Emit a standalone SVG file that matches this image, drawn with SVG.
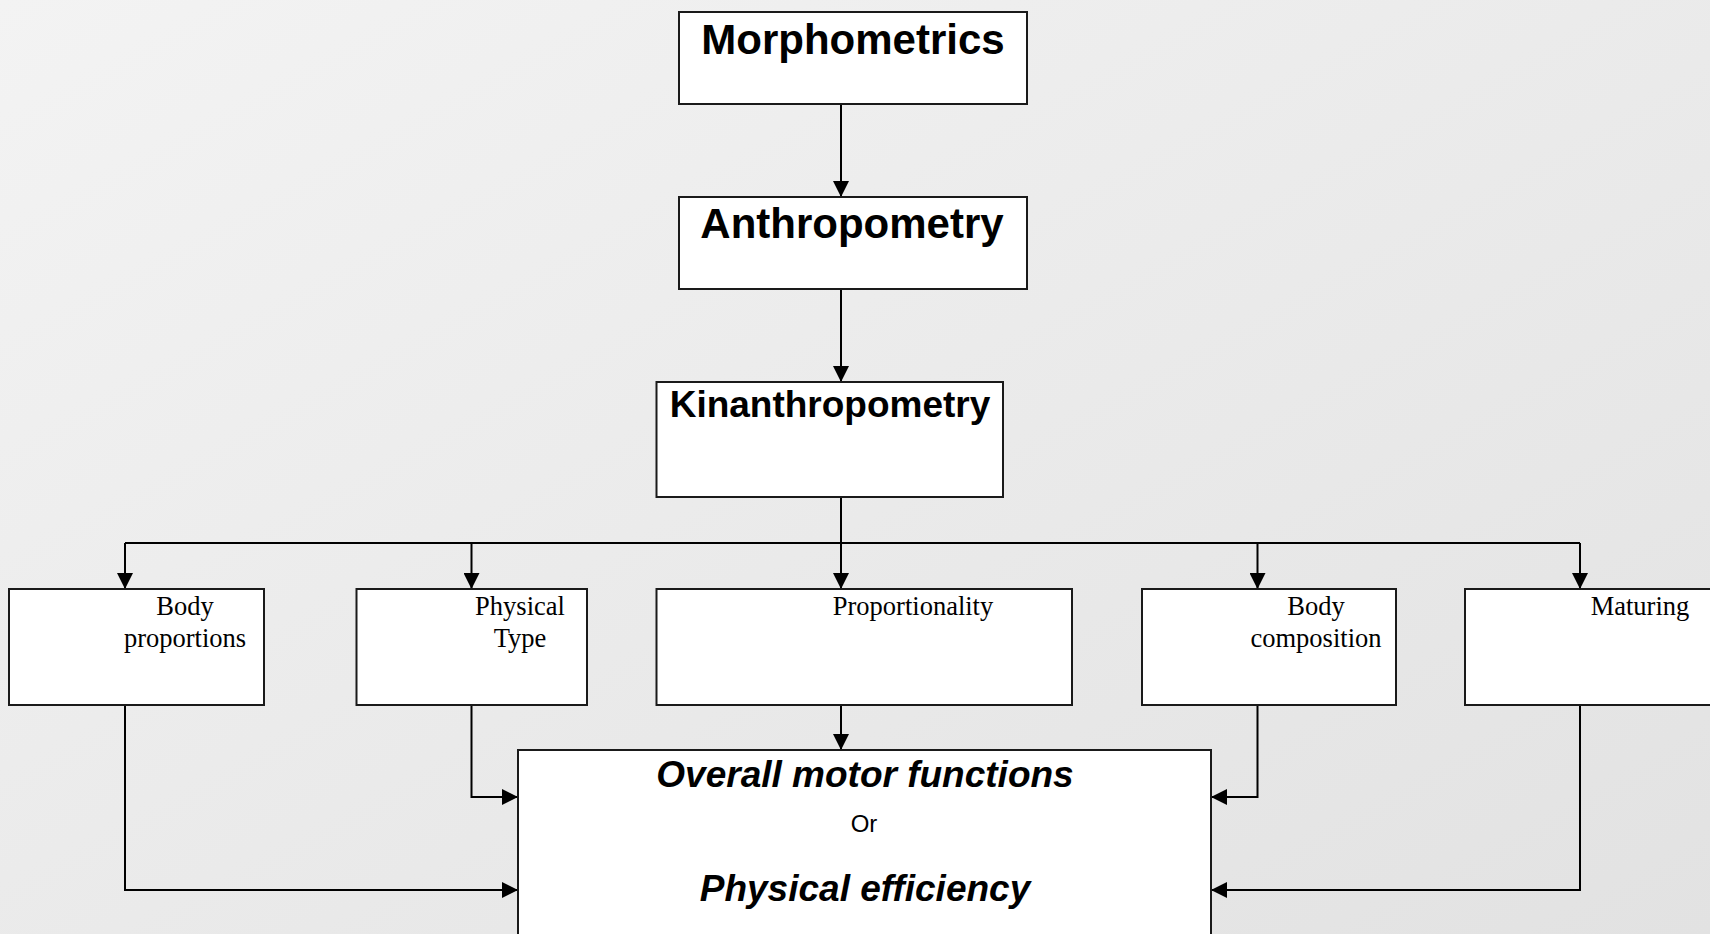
<svg xmlns="http://www.w3.org/2000/svg" width="1710" height="934" viewBox="0 0 1710 934">
<defs>
<linearGradient id="bg" x1="0" y1="0" x2="1" y2="1">
<stop offset="0" stop-color="#f3f3f3"/>
<stop offset="1" stop-color="#e2e2e2"/>
</linearGradient>
<marker id="ah" viewBox="0 0 16 16" refX="16" refY="8" markerWidth="16" markerHeight="16" markerUnits="userSpaceOnUse" orient="auto">
<path d="M0,0 L16,8 L0,16 z" fill="#000"/>
</marker>
<style>
.box{fill:#fff;stroke:#1a1a1a;stroke-width:2}
.ln{fill:none;stroke:#000;stroke-width:2}
.ar{fill:none;stroke:#000;stroke-width:2;marker-end:url(#ah)}
.hb{font-family:"Liberation Sans",Arial,sans-serif;font-weight:bold;fill:#000;text-anchor:middle}
.hi{font-family:"Liberation Sans",Arial,sans-serif;font-weight:bold;font-style:italic;fill:#000;text-anchor:middle;font-size:37px}
.tm{font-family:"Liberation Serif","Times New Roman",serif;fill:#000;text-anchor:middle;font-size:26.5px}
</style>
</defs>
<rect width="1710" height="934" fill="url(#bg)"/>
<g id="connectors">
<path class="ar" d="M841,104 V197"/>
<path class="ar" d="M841,289 V382"/>
<path class="ar" d="M841,497 V589"/>
<path class="ln" d="M125,543 H1580"/>
<path class="ar" d="M125,543 V589"/>
<path class="ar" d="M471.5,543 V589"/>
<path class="ar" d="M1257.5,543 V589"/>
<path class="ar" d="M1580,543 V589"/>
<path class="ar" d="M841,705 V750"/>
<path class="ar" d="M471.5,705 V797 H518"/>
<path class="ar" d="M125,705 V890 H518"/>
<path class="ar" d="M1257.5,705 V797 H1211"/>
<path class="ar" d="M1580,705 V890 H1211"/>
</g>
<g id="morphometrics">
<rect class="box" x="679" y="12" width="348" height="92"/>
<text class="hb" x="853" y="54" font-size="42">Morphometrics</text>
</g>
<g id="anthropometry">
<rect class="box" x="679" y="197" width="348" height="92"/>
<text class="hb" x="852" y="238" font-size="42">Anthropometry</text>
</g>
<g id="kinanthropometry">
<rect class="box" x="656.5" y="382" width="346.5" height="115"/>
<text class="hb" x="830" y="417" font-size="37">Kinanthropometry</text>
</g>
<g id="body-proportions">
<rect class="box" x="9" y="589" width="255" height="116"/>
<text class="tm" x="185" y="615">Body</text>
<text class="tm" x="185" y="647">proportions</text>
</g>
<g id="physical-type">
<rect class="box" x="356.5" y="589" width="230.5" height="116"/>
<text class="tm" x="520" y="615">Physical</text>
<text class="tm" x="520" y="647">Type</text>
</g>
<g id="proportionality">
<rect class="box" x="656.5" y="589" width="415.5" height="116"/>
<text class="tm" x="913" y="615">Proportionality</text>
</g>
<g id="body-composition">
<rect class="box" x="1142" y="589" width="254" height="116"/>
<text class="tm" x="1316" y="615">Body</text>
<text class="tm" x="1316" y="647">composition</text>
</g>
<g id="maturing">
<rect class="box" x="1465" y="589" width="260" height="116"/>
<text class="tm" x="1640" y="615">Maturing</text>
</g>
<g id="motor-functions">
<rect class="box" x="518" y="750" width="693" height="200"/>
<text class="hi" x="865" y="787">Overall motor functions</text>
<text x="864" y="832" font-family="Liberation Sans,Arial,sans-serif" font-size="24" text-anchor="middle" fill="#000">Or</text>
<text class="hi" x="865" y="901">Physical efficiency</text>
</g>
</svg>
